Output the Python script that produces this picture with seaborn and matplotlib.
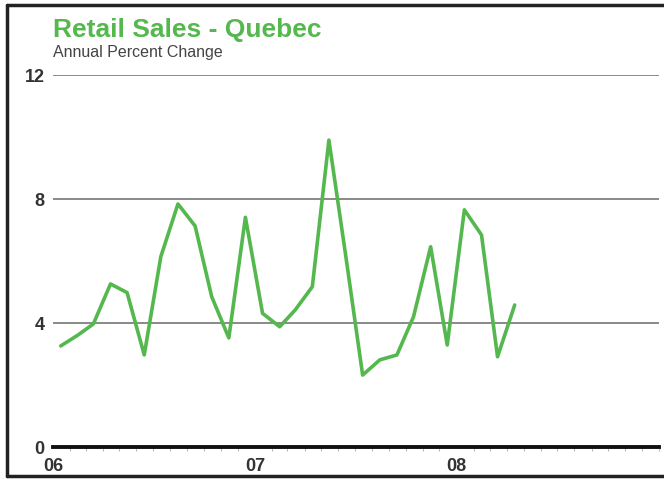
import matplotlib
matplotlib.use("Agg")
import matplotlib.pyplot as plt
import matplotlib.dates as mdates
import pandas as pd
import seaborn as sns

# Monthly annual percent change, Jan 2006 - Apr 2008
start_month = "2006-01-01"
pct_change = [3.26, 3.61, 3.97, 5.26, 4.98, 2.97, 6.14, 7.84, 7.13, 4.85, 3.52, 7.41,
              4.31, 3.88, 4.42, 5.17, 9.9, 6.1, 2.32, 2.81, 2.97, 4.2, 6.46, 3.29,
              7.65, 6.84, 2.91, 4.58]
y_ticks = [0, 4, 8, 12]
year_ticks = ["2006-01-01", "2007-01-01", "2008-01-01"]

title = "Retail Sales - Quebec"
subtitle = "Annual Percent Change"

green = "#55b84e"

# points sit in the middle of each month
dates = pd.date_range(start_month, periods=len(pct_change), freq="MS") + pd.Timedelta(days=14)
df = pd.DataFrame({"date": dates, "pct": pct_change})

sns.set_style("white")
plt.rcParams["font.family"] = ["Liberation Sans", "DejaVu Sans"]

fig = plt.figure(figsize=(6.64, 4.79), dpi=100)
ax = fig.add_axes([53 / 664, 32 / 479, 606 / 664, 372 / 479])

sns.lineplot(data=df, x="date", y="pct", color=green, linewidth=2.6, ax=ax)

ax.set_xlim(pd.Timestamp("2006-01-01"), pd.Timestamp("2009-01-01"))
ax.set_ylim(0, 12)
ax.set_yticks(y_ticks)
ax.set_yticklabels([str(v) for v in y_ticks], fontsize=13, fontweight="bold", color="#333333")
for v in y_ticks[1:]:
    ax.axhline(v, color="#808080", linewidth=1.3, zorder=0)

ax.set_xticks(pd.to_datetime(year_ticks))
ax.xaxis.set_major_formatter(mdates.DateFormatter("%y"))
ax.xaxis.set_minor_locator(mdates.MonthLocator())
ax.tick_params(axis="x", which="major", length=4, width=1, color="#777777",
               labelsize=13, pad=4)
ax.tick_params(axis="x", which="minor", length=3, width=0.8, color="#bbbbbb", bottom=True)
ax.tick_params(axis="y", length=0, pad=6)
for lab in ax.get_xticklabels():
    lab.set_fontweight("bold")
    lab.set_color("#333333")

ax.set_xlabel("")
ax.set_ylabel("")
for s in ["top", "right", "left"]:
    ax.spines[s].set_visible(False)
ax.spines["bottom"].set_color("#111111")
ax.spines["bottom"].set_linewidth(2.8)

fig.text(53 / 664, 1 - 37 / 479, title, fontsize=19, fontweight="bold", color=green)
fig.text(53 / 664, 1 - 57 / 479, subtitle, fontsize=11.5, color="#444444")

# outer frame
frame_kw = dict(color="#222222", linewidth=2.5, transform=fig.transFigure)
fig.add_artist(plt.Line2D([7 / 664, 7 / 664], [3 / 479, 1 - 5 / 479], **frame_kw))
fig.add_artist(plt.Line2D([7 / 664, 1], [1 - 5 / 479, 1 - 5 / 479], **frame_kw))
fig.add_artist(plt.Line2D([7 / 664, 1], [3 / 479, 3 / 479], **frame_kw))

fig.savefig("out.png", dpi=100, facecolor="white")
